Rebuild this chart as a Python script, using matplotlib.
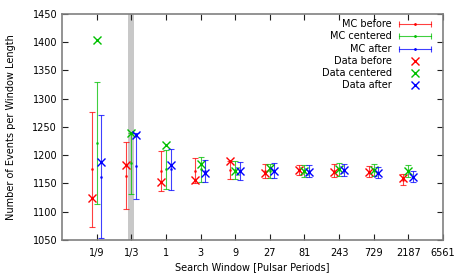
import numpy as np
import matplotlib
matplotlib.use("Agg")
import matplotlib.pyplot as plt

# search windows in pulsar periods (powers of 3)
windows = [1/9, 1/3, 1, 3, 9, 27, 81, 243, 729, 2187]
tick_pos = [1/9, 1/3, 1, 3, 9, 27, 81, 243, 729, 2187, 6561]
tick_lab = ["1/9", "1/3", "1", "3", "9", "27", "81", "243", "729", "2187", "6561"]

mc_before = [1175, 1164, 1172, 1173, 1174, 1172, 1174, 1173, 1171, 1157]
mc_before_err = [102, 60, 36, 22, 16, 12, 9, 11, 10, 10]
mc_centered = [1222, 1186, 1175, 1175, 1174, 1172, 1172, 1175, 1174, 1172]
mc_centered_err = [108, 54, 34, 22, 16, 13, 10, 11, 10, 10]
mc_after = [1162, 1181, 1175, 1172, 1172, 1173, 1172, 1174, 1169, 1162]
mc_after_err = [109, 59, 36, 20, 16, 13, 10, 10, 10, 10]

data_before = [1125, 1183, 1152, 1156, 1189, 1168, 1174, 1171, 1170, 1159]
data_centered = [1404, 1239, 1219, 1185, 1172, 1177, 1172, 1175, 1174, 1173]
data_after = [1188, 1236, 1183, 1169, 1172, 1172, 1171, 1174, 1168, 1161]

red, green, blue = "#ff0000", "#00c000", "#0000ff"
fs = 7

fig = plt.figure(figsize=(4.63, 2.78), dpi=100)
ax = fig.add_axes([62/463, 38/278, 381/463, 226/278])

x = np.array(windows)
ax.axvline(1/3, color="#c8c8c8", lw=4.3, zorder=0)

series = [(x*0.85, mc_before, mc_before_err, data_before, red),
          (x, mc_centered, mc_centered_err, data_centered, green),
          (x*1.16, mc_after, mc_after_err, data_after, blue)]
for xs, mc, err, dat, c in series:
    ax.errorbar(xs, mc, yerr=err, fmt="o", ms=1, color=c, ecolor=c,
                elinewidth=0.8, capsize=2.5, capthick=0.8, alpha=0.75)
    ax.plot(xs, dat, "x", color=c, ms=6, mew=1)

ax.set_xscale("log")
ax.set_xlim(1/27, 6561)
ax.set_ylim(1050, 1450)
ax.set_xticks(tick_pos)
ax.set_xticklabels(tick_lab)
ax.minorticks_off()
ax.set_yticks(range(1050, 1451, 50))
ax.tick_params(direction="in", length=4, width=0.8, labelsize=fs,
               top=True, right=True, colors="#202020", labelcolor="black")
ax.tick_params(axis="x", pad=6)
for s in ax.spines.values():
    s.set_color("#808080")
    s.set_linewidth(1.2)
ax.set_xlabel("Search Window [Pulsar Periods]", fontsize=fs, labelpad=3)
ax.set_ylabel("Number of Events per Window Length", fontsize=fs, labelpad=12)

# gnuplot style key, labels right aligned
labels = ["MC before", "MC centered", "MC after",
          "Data before", "Data centered", "Data after"]
cols = [red, green, blue, red, green, blue]
for i, (lab, c) in enumerate(zip(labels, cols)):
    yy = 0.954 - i*0.0535
    ax.text(0.866, yy, lab, ha="right", va="center", fontsize=fs,
            transform=ax.transAxes)
    if i < 3:
        ax.plot([0.885, 0.968], [yy, yy], color=c, lw=0.8, marker="|", ms=5,
                mew=0.8, alpha=0.75, transform=ax.transAxes, clip_on=False)
        ax.plot([0.9265], [yy], "o", ms=1, color=c, transform=ax.transAxes)
    else:
        ax.plot([0.9265], [yy], "x", color=c, ms=6, mew=1,
                transform=ax.transAxes, clip_on=False)

fig.savefig("out.png", dpi=100)
